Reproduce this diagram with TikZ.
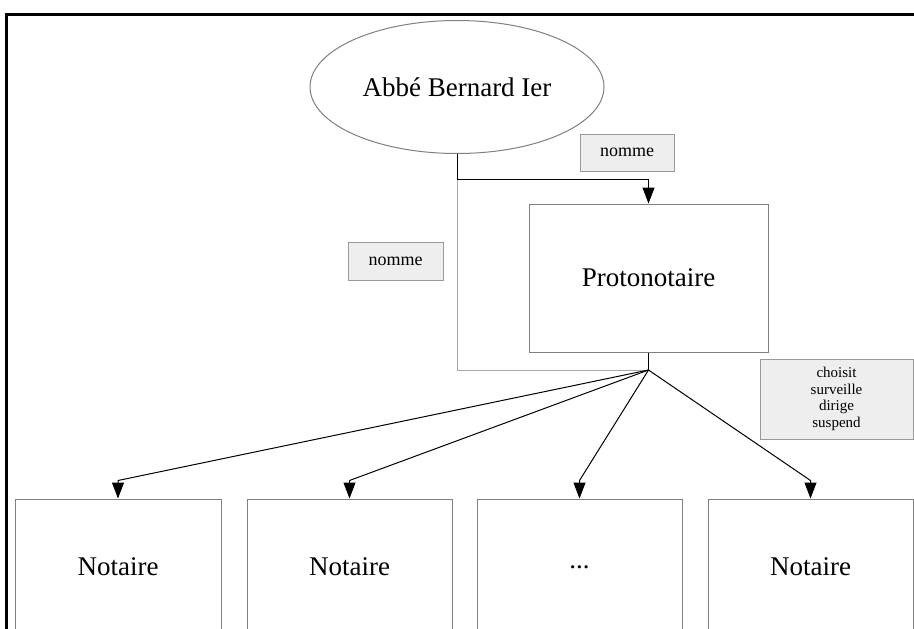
\documentclass[tikz,border=0pt]{standalone}
\usepackage{fontspec}
\setmainfont{Liberation Serif}
\usetikzlibrary{arrows.meta,shapes.geometric,calc}
\definecolor{boxline}{HTML}{808080}
\definecolor{labfill}{HTML}{EEEEEE}
\definecolor{labline}{HTML}{9A9A9A}
\definecolor{lightline}{HTML}{A8A8A8}
\tikzset{
  bigtext/.style={font=\fontsize{27}{32}\selectfont},
  ent/.style={draw=boxline, line width=1pt, fill=white, inner sep=0pt, bigtext},
  relbox/.style={draw=labline, line width=1pt, fill=labfill, inner sep=0pt, align=center},
  conn/.style={draw=black, line width=1pt},
  arr/.style={conn, -{Triangle[width=12pt,length=16pt]}},
}
\begin{document}
\begin{tikzpicture}[x=1pt,y=-1pt]
\useasboundingbox (0,0) rectangle (914,629);
\clip (0,0) rectangle (914,629);
\fill[white] (0,0) rectangle (914,629);
% frame
\draw[line width=3pt] (6,700) -- (6,14) -- (960,14);
% entities
\node[ent, ellipse, minimum width=294pt, minimum height=133pt] (abbe) at (457,87) {Abbé Bernard Ier};
\node[ent, rectangle, minimum width=239pt, minimum height=148pt] (proto) at (648.5,278) {Protonotaire};
\node[ent, rectangle, minimum width=206pt, minimum height=136pt] (n1) at (118,567) {Notaire};
\node[ent, rectangle, minimum width=205pt, minimum height=136pt] (n2) at (349.5,567) {Notaire};
\node[ent, rectangle, minimum width=205pt, minimum height=136pt] (n3) at (579.5,567) {...};
\node[ent, rectangle, minimum width=205pt, minimum height=136pt] (n4) at (810.5,567) {Notaire};
% labels
\node[relbox, minimum width=94pt, minimum height=37pt, font=\fontsize{18}{20}\selectfont] (l1) at (627,152.5) {nomme};
\node[relbox, minimum width=95pt, minimum height=38pt, font=\fontsize{18}{20}\selectfont] (l2) at (395.5,261) {nomme};
\node[relbox, minimum width=153pt, minimum height=80pt, font=\fontsize{15}{16.5}\selectfont] (l3) at (836.5,399) {choisit\\surveille\\dirige\\suspend};
% connectors
\coordinate (fork) at (proto.south |- 0,370);
\draw[lightline, line width=1pt] (abbe.south) |- (fork);
\draw[arr] (abbe.south) -- ++(0,25) -| (proto.north);
\draw[conn] (proto.south) -- (fork);
\foreach \n in {n1,n2,n3,n4}{
  \draw[arr] (fork) -- ($(\n.north)+(0,-18)$) -- (\n.north);
}
\end{tikzpicture}
\end{document}
